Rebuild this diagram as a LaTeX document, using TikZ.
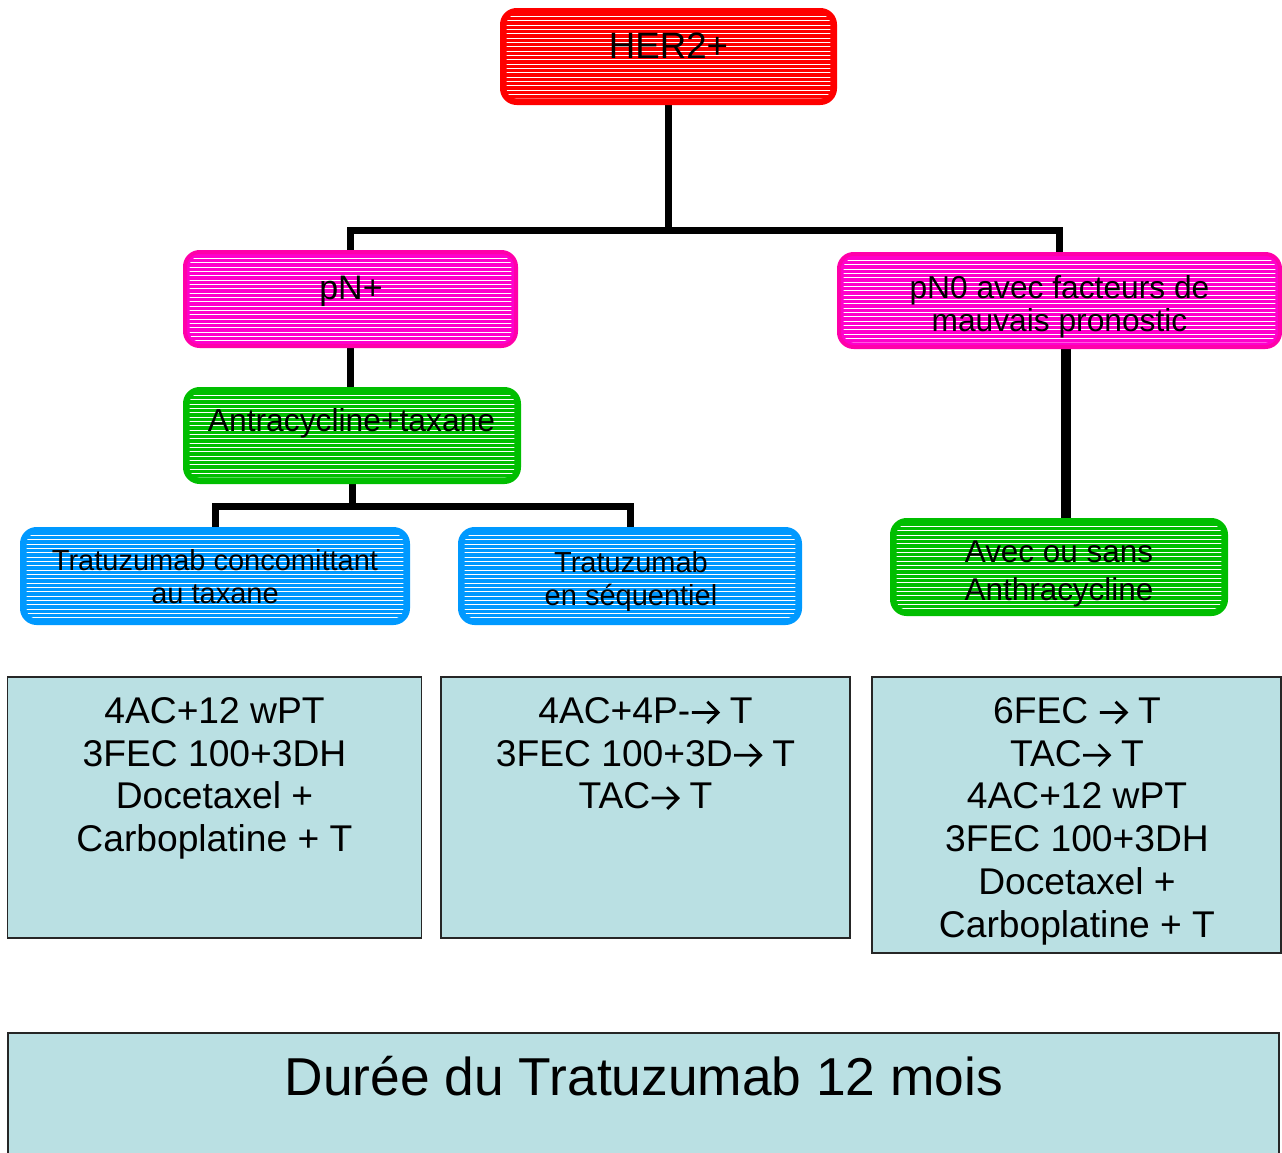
\documentclass[tikz,border=0pt]{standalone}
\usepackage{fontspec}
\setmainfont{Liberation Sans}
\usetikzlibrary{backgrounds}

\definecolor{herred}{RGB}{255,0,0}
\definecolor{pinkfill}{RGB}{255,0,204}
\definecolor{pinkline}{RGB}{255,0,170}
\definecolor{greenfill}{RGB}{0,190,0}
\definecolor{bluefill}{RGB}{0,153,255}
\definecolor{planfill}{RGB}{186,224,227}

\newcommand{\fsz}[2]{\fontsize{#1}{#2}\selectfont}
% open-headed arrow used in the treatment sequences
\newcommand{\rarr}{\tikz[baseline=0pt]{%
  \draw[line width=0.075em, line join=miter]
    (0.03em,0.29em) -- (0.74em,0.29em)
    (0.45em,0.58em) -- (0.74em,0.29em) -- (0.45em,0em);}}

\begin{document}
\begin{tikzpicture}[x=0.75pt,y=-0.75pt,
  stripes/.style={path picture={
      \begin{scope}
        \clip[rounded corners=7pt]
          ([shift={(3.5pt,-3.5pt)}]path picture bounding box.north west) rectangle
          ([shift={(-3.5pt,3.5pt)}]path picture bounding box.south east);
        \foreach \k in {0,...,24}
          \draw[white,line width=0.75pt]
            ([yshift={-4.8pt-\k*3.25pt}]path picture bounding box.north west) --
            ([yshift={-4.8pt-\k*3.25pt}]path picture bounding box.north east);
      \end{scope}}},
  tag/.style={line width=3pt, rounded corners=11pt, stripes, inner sep=0pt},
  plan/.style={draw=black!85, line width=1.1pt, fill=planfill, inner sep=0pt},
  label/.style={inner sep=0pt, align=center, text=black},
  conn/.style={line width=5.25pt, black},
  bigconn/.style={line width=7.5pt, black}
]
\useasboundingbox (0,0) rectangle (1282,1153);
\clip (0,0) rectangle (1282,1153);

% coloured decision boxes
\node[tag, draw=herred, fill=herred, minimum width=249.75pt, minimum height=69.75pt] (her) at (668.5,56.5) {};
\node[tag, draw=pinkline, fill=pinkfill, minimum width=248.25pt, minimum height=70.5pt] (pnp) at (350.5,299) {};
\node[tag, draw=pinkline, fill=pinkfill, minimum width=330.75pt, minimum height=69.75pt] (pn0) at (1059.5,300.5) {};
\node[tag, draw=greenfill, fill=greenfill, minimum width=250.5pt, minimum height=69.75pt] (antra) at (352,435.5) {};
\node[tag, draw=bluefill, fill=bluefill, minimum width=289.5pt, minimum height=70.5pt] (conc) at (215,576) {};
\node[tag, draw=bluefill, fill=bluefill, minimum width=255pt, minimum height=70.5pt] (seq) at (630,576) {};
\node[tag, draw=greenfill, fill=greenfill, minimum width=250.5pt, minimum height=70.5pt] (avec) at (1059,567) {};

% labels of the decision boxes
\node[label, anchor=base, font=\fsz{27.5}{30}] (therr) at (668.5,58) {HER2+};
\node[label, anchor=base, font=\fsz{25.5}{28}] (tpnp) at (351,299) {pN+};
\node[label, anchor=north, font=\fsz{23.8}{24.75}] (tpn0) at (1059.5,274.9) {\strut pN0 avec facteurs de\\mauvais pronostic};
\node[label, anchor=base, font=\fsz{23.85}{28}] (tantra) at (351.5,431) {Antracycline+taxane};
\node[label, anchor=north, font=\fsz{21.75}{24.75}] (tconc) at (215,546.9) {\strut Tratuzumab concomittant\\au taxane};
\node[label, anchor=north, font=\fsz{21.75}{24.75}] (tseq) at (631,548.9) {\strut Tratuzumab\\en séquentiel};
\node[label, anchor=north, font=\fsz{23.6}{28.5}] (tavec) at (1059,535.4) {\strut Avec ou sans\\Anthracycline};

% treatment plans
\node[plan, minimum width=310.5pt, minimum height=195.75pt] (b1) at (214.5,807.5) {};
\node[plan, minimum width=306.75pt, minimum height=195.75pt] (b2) at (645.5,807.5) {};
\node[plan, minimum width=306.75pt, minimum height=207pt] (b3) at (1076.5,815) {};
\node[plan, minimum width=953.25pt, minimum height=102.75pt] (dur) at (643.5,1101.5) {};

\node[label, anchor=north, font=\fsz{27.9}{32.1}] (tb1) at (214.5,693) {\strut 4AC+12 wPT\\3FEC 100+3DH\\Docetaxel +\\Carboplatine + T};
\node[label, anchor=north, font=\fsz{27.9}{32.1}] (tb2) at (645.5,693) {\strut 4AC+4P-\rarr{} T\\3FEC 100+3D\rarr{} T\\TAC\rarr{} T};
\node[label, anchor=north, font=\fsz{27.9}{32.1}] (tb3) at (1077,693) {\strut 6FEC \rarr{} T\\TAC\rarr{} T\\4AC+12 wPT\\3FEC 100+3DH\\Docetaxel +\\Carboplatine + T};
\node[label, anchor=base, font=\fsz{40}{46}] (tdur) at (644,1095) {Durée du Tratuzumab 12 mois};

% tree connectors, behind the boxes
\coordinate (jA) at (668.5,230);
\coordinate (jB) at (352,506);
\coordinate (xr) at (1066,0);
\begin{pgfonlayer}{background}
  \draw[conn] (her.south) -- (jA);
  \draw[conn] (pnp.north) -- (pnp.north |- jA) -- (pn0.north |- jA) -- (pn0.north);
  \draw[conn] (pnp.south) -- (pnp.south |- antra.north);
  \draw[conn] (antra.south) -- (jB);
  \draw[conn] (conc.north) -- (conc.north |- jB) -- (seq.north |- jB) -- (seq.north);
  \draw[bigconn] (pn0.south -| xr) -- (avec.north -| xr);
\end{pgfonlayer}
\end{tikzpicture}
\end{document}
